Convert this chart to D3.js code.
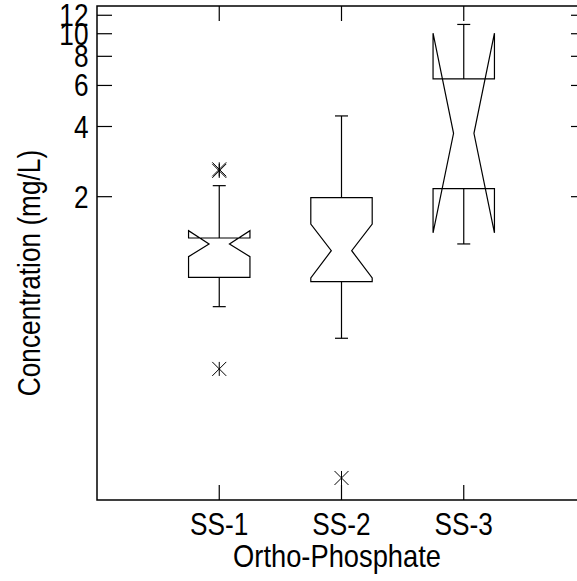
<!DOCTYPE html>
<html>
<head>
<meta charset="utf-8">
<script src="https://cdn.jsdelivr.net/npm/d3@7"></script>
<style>
  body { margin: 0; background: #fff; }
  text { font-family: Arial, "Liberation Sans", sans-serif; fill: #000; font-size: 30.5px; }
</style>
</head>
<body>
<svg id="chart" width="577" height="581"></svg>
<script>
// values (mg/L)
const sites = ["SS-1", "SS-2", "SS-3"];
const whiskerLow = [0.675, 0.494, 1.254];
const q1 = [0.902, 0.864, 2.165];
const notchLow = [1.106, 0.896, 1.40];
const median = [1.254, 1.173, 3.74];
const notchHigh = [1.43, 1.527, 10.05];
const q3 = [1.33, 1.98, 6.40];
const whiskerHigh = [2.23, 4.44, 10.96];
const outliers = [[2.58, 2.62, 0.365], [0.1243], []];
const yTicks = [2, 4, 6, 8, 10, 12];

const svg = d3.select("#chart");

const x = d3.scaleLinear().domain([0, 4]).range([97, 586]);
const y = d3.scaleLog().domain([0.1, 13.15]).range([500, 6]);

const halfW = 30.7, indent = 20.5, cap = 6.5, tickLen = 15;

// glyphs in the original are narrower than they are tall
function label(px, py, str, anchor, rot, sx = 0.86) {
  return svg.append("text")
    .attr("transform", `translate(${px},${py})${rot ? " rotate(" + rot + ")" : ""} scale(${sx},1)`)
    .attr("text-anchor", anchor).text(str);
}

// frame
svg.append("path")
  .attr("d", `M${x(4)},${y.range()[1]}H${x(0)}V${y.range()[0]}H${x(4)}`)
  .attr("fill", "none").attr("stroke", "#000").attr("stroke-width", 1.5);

// y ticks (left and right, inward)
yTicks.forEach(v => {
  svg.append("line").attr("x1", x(0)).attr("x2", x(0) + tickLen)
    .attr("y1", y(v)).attr("y2", y(v)).attr("stroke", "#000").attr("stroke-width", 1.2);
  svg.append("line").attr("x1", x(4)).attr("x2", x(4) - tickLen)
    .attr("y1", y(v)).attr("y2", y(v)).attr("stroke", "#000").attr("stroke-width", 1.2);
  label(88.5, y(v) + 11, v, "end");
});

// x ticks (bottom and top, inward)
sites.forEach((s, i) => {
  const cx = x(i + 1);
  svg.append("line").attr("x1", cx).attr("x2", cx).attr("y1", 500).attr("y2", 500 - tickLen)
    .attr("stroke", "#000").attr("stroke-width", 1.2);
  svg.append("line").attr("x1", cx).attr("x2", cx).attr("y1", 6).attr("y2", 6 + tickLen)
    .attr("stroke", "#000").attr("stroke-width", 1.2);
  label(cx, 535, s, "middle");
});

// boxes
sites.forEach((s, i) => {
  const cx = x(i + 1);
  const g = svg.append("g").attr("fill", "none").attr("stroke", "#000").attr("stroke-width", 1.2);
  const L = cx - halfW, R = cx + halfW;
  const box = `M${L},${y(q3[i])}L${L},${y(notchHigh[i])}L${L + indent},${y(median[i])}` +
    `L${L},${y(notchLow[i])}L${L},${y(q1[i])}L${R},${y(q1[i])}L${R},${y(notchLow[i])}` +
    `L${R - indent},${y(median[i])}L${R},${y(notchHigh[i])}L${R},${y(q3[i])}Z`;
  g.append("path").attr("d", box);
  // whiskers
  g.append("line").attr("x1", cx).attr("x2", cx).attr("y1", y(q3[i])).attr("y2", y(whiskerHigh[i]));
  g.append("line").attr("x1", cx).attr("x2", cx).attr("y1", y(q1[i])).attr("y2", y(whiskerLow[i]));
  g.append("line").attr("x1", cx - cap).attr("x2", cx + cap).attr("y1", y(whiskerHigh[i])).attr("y2", y(whiskerHigh[i]));
  g.append("line").attr("x1", cx - cap).attr("x2", cx + cap).attr("y1", y(whiskerLow[i])).attr("y2", y(whiskerLow[i]));
  // outliers as asterisks
  outliers[i].forEach(v => {
    const py = y(v), r = 7;
    g.append("path")
      .attr("d", `M${cx - r},${py - r}L${cx + r},${py + r}M${cx - r},${py + r}L${cx + r},${py - r}M${cx},${py - r}L${cx},${py + r}`)
      .attr("stroke-width", 1);
  });
});

// axis titles
label(337, 567, "Ortho-Phosphate", "middle", 0, 0.895);
label(40, 273, "Concentration (mg/L)", "middle", -90);
</script>
</body>
</html>
